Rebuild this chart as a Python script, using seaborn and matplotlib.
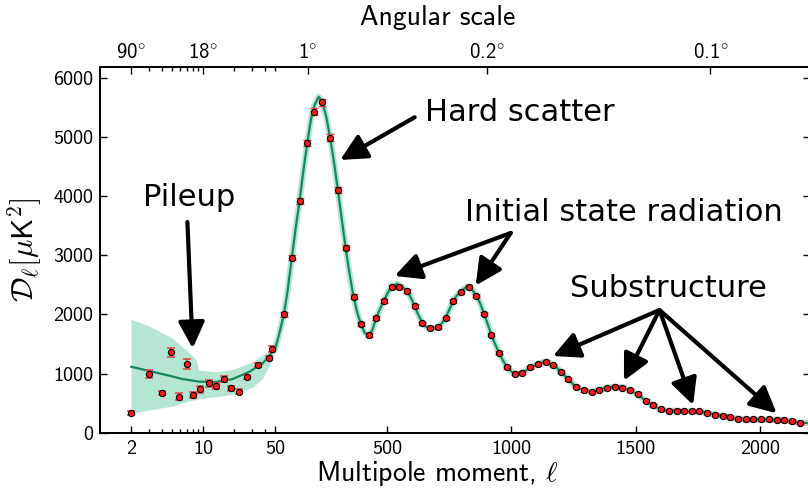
import numpy as np
import matplotlib
matplotlib.use("Agg")
import matplotlib.pyplot as plt
import seaborn as sns
from matplotlib.ticker import FixedLocator, FixedFormatter, NullFormatter

# ---------------- data ----------------
lowl_ell = [2, 3, 4, 4.9, 5.9, 7.0, 7.9, 9.3, 11.4, 13.4, 15.9, 18.7, 22.2, 26.7, 33.9, 43.7, 46.7]
lowl_D = [333, 994, 672, 1361, 605, 1161, 639, 733, 833, 789, 905, 750, 694, 944, 1150, 1261, 1417]
lowl_err = [42, 70, 40, 75, 60, 90, 50, 60, 55, 50, 55, 45, 40, 40, 35, 35, 55]

highl_ell = [85, 117, 148, 179, 208, 239, 271, 302, 333, 365,
             395, 426, 456, 487, 518, 549, 578, 611, 641, 674,
             704, 735, 765, 796, 828, 859, 890, 919, 950, 982,
             1013, 1044, 1076, 1107, 1138, 1167, 1198, 1229, 1258, 1291,
             1323, 1352, 1384, 1415, 1446, 1476, 1507, 1539, 1570, 1600,
             1632, 1664, 1694, 1725, 1755, 1787, 1818, 1849, 1879, 1910,
             1941, 1972, 2003, 2034, 2066, 2095, 2128, 2160]
highl_D = [2003, 2960, 3924, 4900, 5430, 5589, 4990, 4105, 3129, 2300,
           1839, 1653, 1935, 2228, 2459, 2470, 2402, 2143, 1850, 1777,
           1783, 1935, 2228, 2375, 2465, 2317, 2013, 1653, 1353, 1106,
           998, 1015, 1106, 1157, 1201, 1145, 1032, 903, 778, 716,
           690, 730, 754, 778, 761, 717, 655, 541, 463, 396,
           372, 372, 367, 362, 367, 333, 304, 288, 260, 237,
           227, 227, 227, 227, 220, 210, 193, 169]
highl_err = [45, 45, 50, 55, 60, 60, 55, 50, 45, 40,
             35, 35, 35, 35, 35, 35, 35, 30, 30, 30,
             30, 30, 30, 30, 30, 30, 30, 25, 25, 25,
             25, 25, 25, 25, 25, 25, 25, 25, 25, 25,
             25, 25, 25, 25, 25, 25, 25, 25, 25, 25,
             25, 25, 25, 25, 25, 25, 25, 25, 25, 25,
             25, 25, 25, 25, 25, 25, 25, 25]

model_ell = [2, 3, 4.4, 6.3, 9.2, 13.4, 19.4, 28.2, 37.9, 50,
             65, 85, 100, 117, 132, 148, 163, 179, 194, 208, 225, 239, 255, 271, 287,
             302, 318, 333, 349, 365, 380, 395, 410, 425, 440, 456, 471, 487, 503, 518,
             540, 560, 578, 595, 611, 626, 641, 657, 673, 690, 704, 720, 735, 750, 765,
             780, 796, 815, 828, 845, 859, 875, 890, 905, 919, 935, 950, 966, 982, 998,
             1013, 1028, 1044, 1060, 1076, 1092, 1107, 1122, 1138, 1152, 1167, 1183, 1198,
             1214, 1229, 1244, 1258, 1275, 1291, 1307, 1323, 1338, 1352, 1368, 1384, 1400,
             1415, 1430, 1446, 1461, 1476, 1491, 1507, 1523, 1539, 1554, 1570, 1585, 1600,
             1616, 1632, 1664, 1694, 1725, 1755, 1787, 1818, 1849, 1879, 1910, 1941, 1972,
             2003, 2034, 2066, 2095, 2128, 2160, 2200]
model_D = [1116, 1044, 976, 908, 863, 858, 908, 1032, 1174, 1420,
           1650, 2000, 2400, 2960, 3450, 3920, 4420, 4900, 5300, 5540, 5680, 5600, 5350, 4990, 4560,
           4105, 3600, 3130, 2690, 2300, 2030, 1830, 1690, 1645, 1730, 1935, 2090, 2230, 2370, 2460,
           2520, 2470, 2400, 2290, 2140, 1990, 1860, 1790, 1765, 1765, 1790, 1850, 1940, 2080, 2220,
           2320, 2380, 2455, 2465, 2400, 2320, 2180, 2010, 1830, 1655, 1490, 1350, 1220, 1110, 1040,
           1000, 995, 1015, 1060, 1105, 1135, 1160, 1185, 1200, 1180, 1145, 1095, 1035,
           965, 900, 835, 780, 745, 720, 700, 690, 700, 725, 745, 760, 772,
           778, 775, 760, 740, 715, 685, 650, 595, 540, 500, 463, 425, 398,
           382, 372, 370, 367, 362, 360, 335, 305, 285, 262, 240, 228, 225,
           224, 222, 218, 208, 192, 172, 160]

band_ell = [2, 3, 5.06, 6.84, 8.54, 9.06, 13.4, 19.4, 30.2, 37.9, 50]
band_lo = [328, 384, 452, 525, 560, 575, 609, 649, 768, 920, 1343]
band_hi = [1918, 1805, 1596, 1399, 1241, 1060, 1032, 1072, 1201, 1314, 1455]

bottom_ticks = [2, 10, 50, 500, 1000, 1500, 2000]
bottom_minor = [3, 4, 5, 6, 7, 8, 9, 20, 30, 40]
top_ticks = [2, 10, 180, 900, 1800]
top_labels = [r"90$\!^\circ$", r"18$\!^\circ$", r"1$\!^\circ$", r"0.2$\!^\circ$", r"0.1$\!^\circ$"]
top_minor = [3, 4, 5, 6, 7, 8, 9, 20, 30, 40, 50]
y_ticks = [0, 1000, 2000, 3000, 4000, 5000, 6000]

# ---------------- style ----------------
sns.set_style("ticks")
plt.rcParams['font.family'] = ['DejaVu Sans']
plt.rcParams['mathtext.fontset'] = 'cm'
plt.rcParams['axes.linewidth'] = 1.3
for key in ['text.color', 'axes.labelcolor', 'xtick.color', 'ytick.color', 'axes.edgecolor']:
    plt.rcParams[key] = 'black'

LINE = '#15895b'
BAND = '#5cc79e'
RED = '#ff1a1a'
ERR = '#e8403a'

# hybrid scale: log below l=50, linear above
L0 = 50.0
K = 0.2485 / 103.0


def fwd(x):
    x = np.asarray(x, dtype=float)
    with np.errstate(divide='ignore', invalid='ignore'):
        lx = np.log10(np.clip(x, 1e-6, None))
    return np.where(x < L0, lx, np.log10(L0) + (x - L0) * K)


def inv(y):
    y = np.asarray(y, dtype=float)
    with np.errstate(over='ignore'):
        return np.where(y < np.log10(L0), 10.0 ** y, L0 + (y - np.log10(L0)) / K)


fig = plt.figure(figsize=(8.08, 4.97), dpi=100)
ax = fig.add_axes([100 / 808, (497 - 432.7) / 497, 710 / 808, (432.7 - 67.3) / 497])
ax.set_xscale('function', functions=(fwd, inv))

# band at low l and halo above
ax.fill_between(band_ell, band_lo, band_hi, color=BAND, alpha=0.45, lw=0, zorder=1)
sel = [i for i, l in enumerate(model_ell) if l >= 50]
ax.plot([model_ell[i] for i in sel], [model_D[i] for i in sel], color=BAND, lw=4.5,
        alpha=0.45, solid_capstyle='round', zorder=1)
sns.lineplot(x=model_ell, y=model_D, ax=ax, color=LINE, lw=1.6, sort=False,
             estimator=None, zorder=2)

# data points
ax.errorbar(lowl_ell, lowl_D, yerr=lowl_err, fmt='none', ecolor=ERR, elinewidth=1.1,
            capsize=3, capthick=1.1, zorder=3)
ax.errorbar(highl_ell, highl_D, yerr=highl_err, fmt='none', ecolor=ERR, elinewidth=1.0,
            capsize=2.8, capthick=1.0, zorder=3)
sns.scatterplot(x=lowl_ell + highl_ell, y=lowl_D + highl_D, ax=ax, color=RED,
                edgecolor='black', linewidth=0.8, s=20, zorder=4, legend=False)

ax.set_xlim(1, 2200)
ax.set_ylim(0, 6180)

ax.xaxis.set_major_locator(FixedLocator(bottom_ticks))
ax.xaxis.set_major_formatter(FixedFormatter([str(t) for t in bottom_ticks]))
ax.xaxis.set_minor_locator(FixedLocator(bottom_minor))
ax.xaxis.set_minor_formatter(NullFormatter())
ax.yaxis.set_major_locator(FixedLocator(y_ticks))
ax.yaxis.set_major_formatter(FixedFormatter([str(t) for t in y_ticks]))
ax.tick_params(which='both', direction='in', top=False, right=True, width=1.0,
               labelsize=14.5, labelfontfamily='cmss10', colors='black')
ax.tick_params(which='major', length=5, pad=5)
ax.tick_params(which='minor', length=3)

ax2 = ax.twiny()
ax2.set_xscale('function', functions=(fwd, inv))
ax2.set_xlim(ax.get_xlim())
ax2.xaxis.set_major_locator(FixedLocator(top_ticks))
ax2.xaxis.set_major_formatter(FixedFormatter(top_labels))
ax2.xaxis.set_minor_locator(FixedLocator(top_minor))
ax2.xaxis.set_minor_formatter(NullFormatter())
ax2.tick_params(which='both', direction='in', width=1.0, labelsize=15,
                labelfontfamily='cmss10', pad=4, colors='black')
ax2.tick_params(which='major', length=5)
ax2.tick_params(which='minor', length=3)

ax.set_xlabel(r"Multipole moment, $\ell$", fontsize=20, family='cmss10', va='center')
ax.xaxis.set_label_coords(0.4754, -0.112)
ax.set_ylabel(r"$\mathcal{D}_\ell[\mu\mathsf{K}^{\mathsf{2}}]$", fontsize=22, va='center')
ax.yaxis.set_label_coords(-0.106, 0.5)
ax2.set_xlabel("Angular scale", fontsize=20, family='cmss10', va='center')
ax2.xaxis.set_label_coords(0.4754, 1.135)

# annotations
arrow = dict(arrowstyle='-|>', mutation_scale=40, lw=3, color='black',
             shrinkA=0, shrinkB=0)
tfont = dict(fontsize=22, ha='center', va='center', family='DejaVu Sans',
             color='black', zorder=6)

ax.text(1033, 5421, "Hard scatter", **tfont)
ax.annotate("", xy=(311.6, 4613), xytext=(610.6, 5335), arrowprops=arrow, zorder=6)

ax.text(1452, 3730, "Initial state radiation", **tfont)
for tip in [(530, 2651), (856, 2490)]:
    ax.annotate("", xy=tip, xytext=(997, 3378), arrowprops=arrow, zorder=6)

ax.text(7.36, 3970, "Pileup", **tfont)
ax.annotate("", xy=(7.92, 1428), xytext=(7.04, 3564), arrowprops=arrow, zorder=6)

ax.text(1629, 2447, "Substructure", **tfont)
for tip in [(1167, 1297), (1452, 880), (1730, 469), (2066, 328)]:
    ax.annotate("", xy=tip, xytext=(1595, 2075), arrowprops=arrow, zorder=6)

fig.savefig("out.png", dpi=100)
